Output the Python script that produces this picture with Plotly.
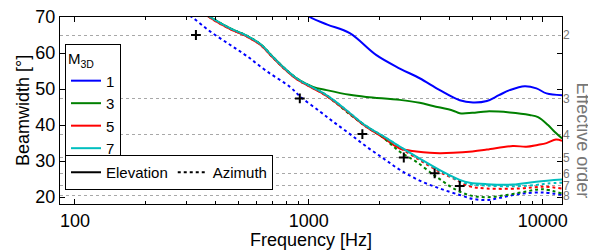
import plotly.graph_objects as go

# ---------------- data ----------------
# M3D = 1, elevation (solid) and azimuth (dotted)
f_el1 = [900, 1010, 1200, 1496, 1945, 2449, 2977, 3631, 4418, 5035, 5771, 6500, 7228, 8375, 9397, 10380, 12100]
bw_el1 = [73, 70, 67.9, 65.5, 59.4, 55.7, 53.0, 49.7, 46.9, 46.3, 46.7, 48.3, 49.7, 50.8, 50.2, 48.8, 48.3]

f_az1 = [280, 316, 378, 460, 542, 659, 830, 931, 1114, 1268, 1500, 1766, 2100, 2449, 2977, 3631, 4418, 5035, 5771, 6543, 7980, 10000, 12100]
bw_az1 = [72, 70, 66.0, 62.3, 59.2, 55.0, 50.6, 47.6, 43.8, 41.0, 37.5, 34.0, 30.6, 27.6, 24.6, 22.4, 20.6, 19.5, 19.2, 19.8, 20.9, 21.3, 20.6]

# M3D = 3
f_el3 = [340, 378, 459, 542, 620, 700, 780, 885, 1042, 1191, 1496, 1766, 2449, 2977, 3397, 4140, 4418, 5000, 5771, 7228, 8790, 9550, 10540, 11300, 12100]
bw_el3 = [72, 70, 66.9, 64.8, 62.5, 59.0, 56.0, 53.0, 50.6, 49.7, 48.4, 47.8, 47.0, 46.2, 45.3, 44.0, 43.3, 43.4, 43.8, 43.5, 42.8, 42.2, 40.0, 38.0, 36.3]

f_az3 = [340, 378, 459, 542, 620, 700, 780, 885, 1000, 1130, 1271, 1496, 1766, 2071, 2449, 2884, 3397, 3631, 4140, 4875, 5771, 6996, 8510, 10000, 12100]
bw_az3 = [72, 70, 66.9, 64.8, 62.5, 59.0, 56.0, 53.0, 51.0, 49.2, 46.8, 43.0, 39.6, 36.6, 32.6, 29.8, 26.3, 25.0, 22.5, 20.5, 20.0, 20.6, 21.6, 22.2, 21.0]

# M3D = 5
f_el5 = [340, 378, 459, 542, 620, 700, 780, 885, 1000, 1130, 1271, 1500, 1735, 2071, 2449, 2884, 3289, 3631, 4140, 5000, 5771, 7450, 8510, 9500, 10380, 11400, 12100]
bw_el5 = [72, 69.8, 66.7, 64.6, 62.3, 58.8, 55.8, 52.8, 50.8, 49.0, 46.8, 43.1, 39.8, 36.6, 33.5, 32.7, 32.3, 32.2, 32.3, 32.7, 33.2, 34.2, 34.0, 34.5, 35.0, 36.0, 35.6]

f_az5 = [340, 378, 459, 542, 620, 700, 780, 885, 1000, 1130, 1271, 1500, 1735, 2071, 2449, 2977, 3289, 3631, 4140, 4875, 5771, 7980, 10000, 12100]
bw_az5 = [72, 69.8, 66.7, 64.6, 62.3, 58.8, 55.8, 52.8, 50.8, 49.0, 46.8, 43.1, 39.8, 36.8, 33.7, 30.3, 28.6, 27.0, 25.2, 23.0, 22.4, 22.4, 22.9, 22.4]

# M3D = 7
f_el7 = [340, 378, 459, 542, 620, 700, 780, 885, 1000, 1130, 1271, 1500, 1735, 2071, 2449, 2977, 3631, 4418, 4875, 5771, 7450, 9397, 12100]
bw_el7 = [72, 70, 66.9, 64.8, 62.5, 59.0, 56.0, 53.0, 51.0, 49.2, 47.0, 43.3, 40.0, 37.0, 34.0, 30.7, 27.5, 24.8, 24.0, 23.6, 23.5, 24.3, 24.9]

f_az7 = [340, 378, 459, 542, 620, 700, 780, 885, 1000, 1130, 1271, 1500, 1735, 2071, 2449, 2977, 3631, 4418, 4875, 5771, 7450, 9397, 10500, 12100]
bw_az7 = [72, 70, 66.9, 64.8, 62.5, 59.0, 56.0, 53.0, 51.0, 49.2, 47.0, 43.3, 40.0, 37.0, 34.0, 30.6, 27.3, 24.5, 23.6, 23.2, 23.0, 23.4, 23.8, 24.0]

# effective-order markers and reference levels
f_marks = [329, 915, 1694, 2547, 3451, 4418]
bw_marks = [65.0, 47.4, 37.5, 31.0, 26.6, 23.1]
order_levels = [65.0, 47.4, 37.4, 31.0, 26.6, 23.1, 20.4]
order_labels = ["2", "3", "4", "5", "6", "7", "8"]

m3d_names = ["1", "3", "5", "7"]
colors = ["#0000ff", "#008000", "#ff0000", "#00bfbf"]

x_ticks = [100, 1000, 10000]
x_ticktext = ["100", "1000", "10000"]
x_minor = [200, 300, 400, 500, 600, 700, 800, 900, 2000, 3000, 4000, 5000, 6000, 7000, 8000, 9000]
y_ticks = [20, 30, 40, 50, 60, 70]

FONT = "Liberation Sans, Arial, sans-serif"

fig = go.Figure()

el = [(f_el1, bw_el1), (f_el3, bw_el3), (f_el5, bw_el5), (f_el7, bw_el7)]
az = [(f_az1, bw_az1), (f_az3, bw_az3), (f_az5, bw_az5), (f_az7, bw_az7)]

for (fx, bx), name, c in zip(el, m3d_names, colors):
    fig.add_trace(go.Scatter(x=fx, y=bx, mode="lines", name=name,
                             line=dict(color=c, width=2), legend="legend",
                             line_shape="spline"))
for (fx, bx), name, c in zip(az, m3d_names, colors):
    fig.add_trace(go.Scatter(x=fx, y=bx, mode="lines", name=name, showlegend=False,
                             line=dict(color=c, width=2, dash="dot"),
                             line_shape="spline"))

fig.add_trace(go.Scatter(x=f_marks, y=bw_marks, mode="markers", showlegend=False,
                         marker=dict(symbol="cross-thin", size=7, color="black",
                                     line=dict(color="black", width=2))))

# legend-only entries for line style
fig.add_trace(go.Scatter(x=[None], y=[None], mode="lines", name="Elevation",
                         line=dict(color="black", width=2), legend="legend2"))
fig.add_trace(go.Scatter(x=[None], y=[None], mode="lines", name="Azimuth",
                         line=dict(color="black", width=2, dash="dot"), legend="legend2"))

# dummy trace to activate left axis
fig.add_trace(go.Scatter(x=[1000], y=[50], yaxis="y2", mode="markers",
                         marker=dict(opacity=0), showlegend=False, hoverinfo="skip"))

yr = [18.1, 70]

# the page body has an 8 px default margin, so the figure is offset by 8 px
fig.update_layout(
    width=588, height=242,
    margin=dict(l=52, r=34, t=9, b=46, autoexpand=False),
    paper_bgcolor="white", plot_bgcolor="white",
    font=dict(family=FONT, color="black"),
    xaxis=dict(type="log", range=[1.936, 4.0825], automargin=False,
               tickvals=x_ticks, ticktext=x_ticktext, ticklabeloverflow="allow",
               ticks="inside", ticklen=5, tickcolor="black",
               showline=True, linecolor="black", linewidth=1, mirror="ticks",
               showgrid=False, zeroline=False,
               tickfont=dict(size=18),
               minor=dict(tickvals=x_minor, ticks="inside", ticklen=3, tickcolor="black", showgrid=False),
               title=dict(text="Frequency [Hz]", font=dict(size=18), standoff=0)),
    yaxis=dict(side="right", range=yr, automargin=False,
               tickvals=order_levels, ticktext=order_labels, ticklabeloverflow="allow",
               ticks="", showline=False,
               showgrid=True, gridcolor="#a8a8a8", gridwidth=1, griddash="dot",
               zeroline=False,
               tickfont=dict(size=12, color="#777777")),
    yaxis2=dict(overlaying="y", side="left", range=yr, automargin=False,
                tickvals=y_ticks, ticklabeloverflow="allow",
                ticks="inside", ticklen=5, tickcolor="black",
                showline=True, linecolor="black", linewidth=1, mirror="ticks",
                showgrid=False, zeroline=False,
                tickfont=dict(size=18),
                title=dict(text="Beamwidth [°]", font=dict(size=18), standoff=1)),
    legend=dict(title=dict(text="M<sub>3D</sub>", font=dict(size=15)),
                x=0.01, y=0.856, xanchor="left", yanchor="top",
                bgcolor="white", bordercolor="black", borderwidth=1,
                font=dict(size=15), itemwidth=30, tracegroupgap=0),
    legend2=dict(orientation="h", x=0.01, y=0.262, xanchor="left", yanchor="top",
                 bgcolor="white", bordercolor="black", borderwidth=1,
                 font=dict(size=15), itemwidth=30),
    annotations=[dict(text="Effective order", xref="paper", yref="paper",
                      x=1.0, xshift=21, y=0.5, yshift=-30, textangle=90, showarrow=False,
                      xanchor="center", yanchor="middle",
                      font=dict(size=18, color="#777777"))],
)

fig.write_html("out.html")
